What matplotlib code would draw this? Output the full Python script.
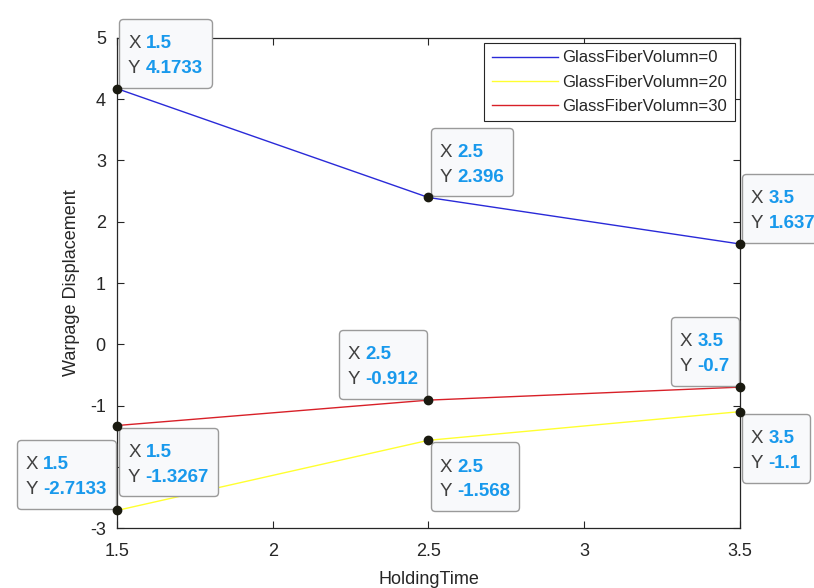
import matplotlib.pyplot as plt
from matplotlib.offsetbox import TextArea, HPacker, VPacker, DrawingArea, AnnotationBbox

plt.rcParams['font.family'] = ['Liberation Sans', 'DejaVu Sans']
plt.rcParams['axes.unicode_minus'] = False

holding_time = [1.5, 2.5, 3.5]
warp_gf0 = [4.1733, 2.396, 1.637]
warp_gf20 = [-2.7133, -1.568, -1.1]
warp_gf30 = [-1.3267, -0.912, -0.7]
labels = ['GlassFiberVolumn=0', 'GlassFiberVolumn=20', 'GlassFiberVolumn=30']

# datatip labels as shown, and which corner of the box sits on the point
tips = [
    (1.5, 4.1733, '1.5', '4.1733', 'bl'),
    (2.5, 2.396, '2.5', '2.396', 'bl'),
    (3.5, 1.637, '3.5', '1.637', 'bl'),
    (2.5, -0.912, '2.5', '-0.912', 'br'),
    (3.5, -0.7, '3.5', '-0.7', 'br'),
    (1.5, -1.3267, '1.5', '-1.3267', 'tl'),
    (1.5, -2.7133, '1.5', '-2.7133', 'br'),
    (2.5, -1.568, '2.5', '-1.568', 'tl'),
    (3.5, -1.1, '3.5', '-1.1', 'tl'),
]

fig = plt.figure(figsize=(8.14, 5.88), dpi=100)
ax = fig.add_axes([0.1437, 0.102, 0.7653, 0.8334])

ax.plot(holding_time, warp_gf0, color='#2a2ad8', lw=1.0, label=labels[0])
ax.plot(holding_time, warp_gf20, color='#ffff30', lw=1.0, label=labels[1])
ax.plot(holding_time, warp_gf30, color='#d82028', lw=1.0, label=labels[2])

ax.set_xlim(1.5, 3.5)
ax.set_ylim(-3, 5)
ax.set_xticks([1.5, 2, 2.5, 3, 3.5])
ax.set_xticklabels(['1.5', '2', '2.5', '3', '3.5'])
ax.set_yticks(range(-3, 6))
ax.tick_params(direction='in', top=True, right=True, labelsize=13,
               colors='#262626', length=5, width=0.8)
ax.tick_params(axis='x', pad=11)
ax.tick_params(axis='y', pad=8)
for s in ax.spines.values():
    s.set_color('#262626')
    s.set_linewidth(0.9)
ax.set_xlabel('HoldingTime', fontsize=13, color='#262626', labelpad=8)
ax.set_ylabel('Warpage Displacement', fontsize=13, color='#262626', labelpad=7)

leg = ax.legend(loc='upper right', fontsize=12, handlelength=4.0, handletextpad=0.25,
                borderpad=0.45, labelspacing=0.55, fancybox=False, framealpha=1,
                borderaxespad=0, bbox_to_anchor=(0.992, 0.99))
leg.get_frame().set_edgecolor('#262626')
leg.get_frame().set_linewidth(0.8)
for t in leg.get_texts():
    t.set_color('#262626')

fs = 13.5
align = {'bl': ((0, 0), (1.5, 0.8)), 'br': ((1, 0), (-1.0, 1.0)),
         'tl': ((0, 1), (1.5, -1.5))}
for x, y, xs, ys, corner in tips:
    ax.plot(x, y, 'o', color='#1a1a10', ms=6, clip_on=False, zorder=7)
    rx = HPacker(children=[TextArea('X', textprops=dict(color='#404040', fontsize=fs)),
                           TextArea(xs, textprops=dict(color='#1899ec', fontsize=fs,
                                                       fontweight='bold'))],
                 pad=0, sep=3.5, align='baseline')
    ry = HPacker(children=[TextArea('Y', textprops=dict(color='#404040', fontsize=fs)),
                           TextArea(ys, textprops=dict(color='#1899ec', fontsize=fs,
                                                       fontweight='bold'))],
                 pad=0, sep=3.5, align='baseline')
    rows = VPacker(children=[rx, ry], pad=0, sep=5.7, align='left')
    inner = VPacker(children=[DrawingArea(1, 0.1), rows], pad=0, sep=5.0, align='left')
    box = VPacker(children=[inner, DrawingArea(1, 0.1)], pad=6.5, sep=1.2, align='left')
    ba, off = align[corner]
    ab = AnnotationBbox(box, (x, y), xybox=off, xycoords='data',
                        boxcoords='offset points', box_alignment=ba, pad=0,
                        frameon=True, annotation_clip=False, zorder=6,
                        bboxprops=dict(boxstyle='round,pad=0,rounding_size=0.3',
                                       fc='#f8f9fb', ec='#9a9a9a', lw=1.0))
    ax.add_artist(ab)

fig.savefig('out.png', dpi=100)
